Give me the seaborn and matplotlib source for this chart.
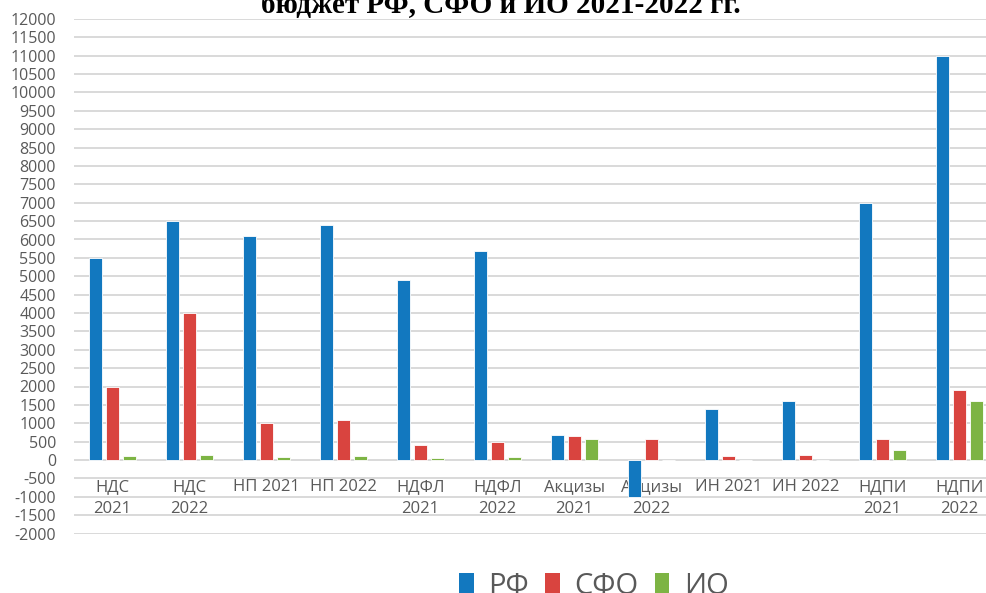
import numpy as np
import pandas as pd
import matplotlib
matplotlib.use("Agg")
import matplotlib.pyplot as plt
from matplotlib.patches import Patch
import seaborn as sns

categories = ["НДС\n2021", "НДС\n2022", "НП 2021", "НП 2022", "НДФЛ\n2021", "НДФЛ\n2022",
              "Акцизы\n2021", "Акцизы\n2022", "ИН 2021", "ИН 2022", "НДПИ\n2021", "НДПИ\n2022"]
series_names = ["РФ", "СФО", "ИО"]
rf_values = [5500, 6500, 6100, 6400, 4900, 5700, 690, -1000, 1400, 1600, 7000, 11000]
sfo_values = [2000, 4000, 1000, 1100, 400, 500, 660, 580, 120, 130, 560, 1900]
io_values = [100, 130, 90, 110, 60, 80, 570, 10, 5, 5, 260, 1600]
y_ticks = list(range(-2000, 12001, 500))
title_text = "бюджет РФ, СФО и ИО 2021-2022 гг."

colors = ["#1278BF", "#D9443F", "#7DB444"]

df = pd.DataFrame({
    "cat": categories * 3,
    "val": rf_values + sfo_values + io_values,
    "region": [series_names[0]] * 12 + [series_names[1]] * 12 + [series_names[2]] * 12,
})

sns.set_theme(style="white")
plt.rcParams["font.family"] = ["Open Sans", "DejaVu Sans"]

fig = plt.figure(figsize=(9.87, 5.93), dpi=100)
ax = fig.add_axes([74 / 987, 59.5 / 593, (998 - 74) / 987, (574 - 59.5) / 593])

sns.barplot(data=df, x="cat", y="val", hue="region", order=categories,
            hue_order=series_names, palette=colors, saturation=1, width=0.664, gap=0.24,
            legend=False, edgecolor="white", linewidth=0.6, ax=ax, zorder=3)

ax.set_ylim(-2000, 12000)
ax.set_xlim(-0.5, 11.5)
ax.set_yticks(y_ticks)
ax.set_yticklabels([str(t) for t in y_ticks])
ax.yaxis.grid(True, color="#D9D9D9", linewidth=1.4, zorder=0)
ax.set_axisbelow(True)
for s in ["left", "right", "top"]:
    ax.spines[s].set_visible(False)
ax.spines["bottom"].set_position(("data", 0))
ax.spines["bottom"].set_visible(False)
ax.set_xlabel("")
ax.set_ylabel("")
ax.tick_params(axis="y", length=0, pad=13, labelsize=11.5, labelcolor="#595959")
ax.tick_params(axis="x", length=0, pad=14, labelsize=12, labelcolor="#595959")
for lbl in ax.get_xticklabels():
    lbl.set_linespacing(1.5)

fig.text(501 / 987, 1 - 13 / 593, title_text, ha="center", va="baseline",
         fontsize=21, fontweight="bold", family=["Liberation Serif", "DejaVu Serif"],
         color="black")

handles = [Patch(facecolor=c, edgecolor="none") for c in colors]
fig.legend(handles, series_names, loc="center", bbox_to_anchor=(594 / 987, 1 - 587 / 593),
           ncol=3, frameon=False, fontsize=21, handlelength=0.5, handleheight=0.8,
           handletextpad=0.5, columnspacing=0.55, labelcolor="#595959")

fig.savefig("out.png", dpi=100)
